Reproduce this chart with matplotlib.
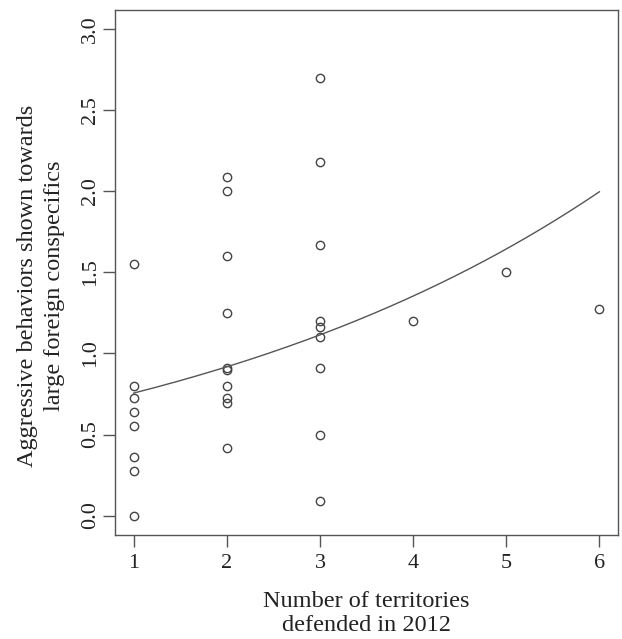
import numpy as np
import matplotlib
matplotlib.use("Agg")
import matplotlib.pyplot as plt

plt.rcParams["font.family"] = ["Liberation Serif", "DejaVu Serif"]

# territories defended (x) and aggressive behaviours (y)
territories = [1, 1, 1, 1, 1, 1, 1, 1,
               2, 2, 2, 2, 2, 2, 2, 2, 2, 2,
               3, 3, 3, 3, 3, 3, 3, 3, 3,
               4, 5, 6]
aggression = [1.55, 0.80, 0.724, 0.636, 0.554, 0.361, 0.273, 0.0,
              2.09, 2.0, 1.60, 1.25, 0.909, 0.90, 0.80, 0.728, 0.697, 0.417,
              2.70, 2.18, 1.667, 1.20, 1.165, 1.10, 0.909, 0.50, 0.092,
              1.20, 1.50, 1.272]

# fitted exponential curve y = a * exp(b * x)
fit_a = 0.622
fit_b = 0.1945
fit_x = np.linspace(1, 6, 200)

xticks = [1, 2, 3, 4, 5, 6]
yticks = [0.0, 0.5, 1.0, 1.5, 2.0, 2.5, 3.0]

gray = "#555555"
txt = "#222222"

fig = plt.figure(figsize=(6.22, 6.39), dpi=100)
ax = fig.add_axes([0.1849, 0.1628, 0.8087, 0.8216])

ax.plot(territories, aggression, "o", mfc="none", mec="#444444",
        ms=6.0, mew=1.0)
ax.plot(fit_x, fit_a * np.exp(fit_b * fit_x), color=gray, lw=1.0)

ax.set_xlim(0.8, 6.2)
ax.set_ylim(-0.12, 3.12)
ax.set_xticks(xticks)
ax.set_xticklabels([str(t) for t in xticks])
ax.set_yticks(yticks)
ax.set_yticklabels(["%.1f" % t for t in yticks], rotation=90, va="center")

for s in ax.spines.values():
    s.set_color(gray)
    s.set_linewidth(1.0)
ax.tick_params(direction="out", length=8.5, width=1.0, color=gray,
               labelsize=16, labelcolor=txt)
ax.tick_params(axis="x", pad=5)
ax.tick_params(axis="y", pad=2)

ax.set_xlabel("Number of territories\ndefended in 2012", fontsize=17.5,
              color=txt, linespacing=1.2)
ax.xaxis.set_label_coords(0.5, -0.107)
ax.set_ylabel("Aggressive behaviors shown towards\nlarge foreign conspecifics",
              fontsize=17.5, color=txt, linespacing=1.4)
ax.yaxis.set_label_coords(-0.099, 0.475)

plt.savefig("out.png", dpi=100)
